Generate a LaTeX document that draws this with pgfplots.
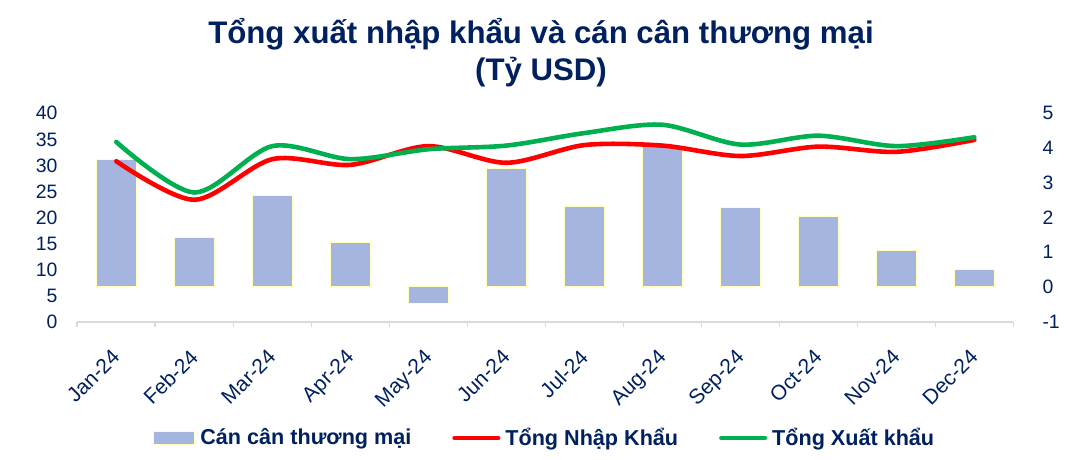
\documentclass[border=0pt]{standalone}
\usepackage{fontspec}
\setmainfont{Liberation Sans}
\usepackage{pgfplots}
\pgfplotsset{compat=1.18}
\definecolor{navy}{RGB}{0,32,96}
\definecolor{barblue}{RGB}{165,181,224}
\definecolor{baredge}{RGB}{255,255,190}
\definecolor{lred}{RGB}{255,0,0}
\definecolor{lgreen}{RGB}{0,176,80}
\begin{document}
\begin{tikzpicture}
\useasboundingbox (-38.65pt,-69.15pt) rectangle (501.85pt,160.85pt);
\begin{axis}[
  at={(0,0)}, anchor=south west,
  width=468pt, height=104.2pt, scale only axis,
  xmin=-0.5, xmax=11.5, ymin=-1, ymax=5,
  axis y line*=right, axis x line*=bottom,
  y axis line style={draw=none},
  x axis line style={draw=black!15, line width=0.8pt, -},
  ytick={-1,0,...,5},
  ytick style={draw=none},
  yticklabel style={font=\fontsize{9.7}{11}\selectfont, text=navy, xshift=6.8pt, anchor=west},
  xtick={0,...,11},
  xticklabels={Jan-24,Feb-24,Mar-24,Apr-24,May-24,Jun-24,Jul-24,Aug-24,Sep-24,Oct-24,Nov-24,Dec-24},
  xticklabel style={rotate=45, anchor=north east, font=\fontsize{10.5}{11}\selectfont, text=navy, xshift=-4.8pt, yshift=-0.8pt},
  major x tick style={draw=none},
  minor xtick={-0.5,0.5,...,11.5},
  minor x tick style={draw=black!15, line width=0.8pt},
  minor tick length=2.5pt,
  tick align=outside,
  /pgf/number format/assume math mode=true,
  clip=false,
]
\addplot[ybar, bar width=20pt, fill=barblue, draw=baredge, line width=0.5pt] coordinates {
  (0,3.68) (1,1.42) (2,2.62) (3,1.28) (4,-0.49) (5,3.40)
  (6,2.33) (7,4.04) (8,2.30) (9,2.02) (10,1.05) (11,0.50)};
\end{axis}
\begin{axis}[
  at={(0,0)}, anchor=south west,
  width=468pt, height=104.2pt, scale only axis,
  xmin=-0.5, xmax=11.5, ymin=0, ymax=40,
  axis y line*=left, axis x line=none,
  y axis line style={draw=none},
  ytick={0,5,...,40},
  ytick style={draw=none},
  yticklabel style={font=\fontsize{9.7}{11}\selectfont, text=navy, xshift=-6.45pt},
  /pgf/number format/assume math mode=true,
  clip=false,
  legend columns=3,
  legend style={at={(0.0801,-0.558)}, anchor=west, draw=none, fill=none,
    font=\bfseries\fontsize{10.8}{12}\selectfont, text=navy, inner sep=0pt,
    nodes={inner sep=0pt},
    /tikz/every odd column/.style={column sep=2.5pt},
    /tikz/every even column/.style={column sep=20.5pt}},
  legend cell align=left,
]
\addlegendimage{legend image code/.code={\draw[fill=barblue,draw=baredge,line width=0.5pt] (0pt,-3.15pt) rectangle (20.85pt,3.15pt);}}
\addlegendentry{Cán cân thương mại}
\addplot[lred, line width=2.3pt, smooth, line cap=round,
  legend image code/.code={\draw[lred,line width=2pt,line cap=round] (0pt,0pt) -- (22pt,0pt);}] coordinates {
  (0,30.8) (1,23.4) (2,31.2) (3,30.1) (4,33.7) (5,30.5)
  (6,33.9) (7,33.8) (8,31.8) (9,33.6) (10,32.6) (11,34.9)};
\addlegendentry{Tổng Nhập Khẩu}
\addplot[lgreen, line width=2.3pt, smooth, line cap=round,
  legend image code/.code={\draw[lgreen,line width=2pt,line cap=round] (0pt,0pt) -- (22pt,0pt);}] coordinates {
  (0,34.5) (1,24.8) (2,33.7) (3,31.2) (4,33.1) (5,33.8)
  (6,36.2) (7,37.8) (8,34.0) (9,35.7) (10,33.7) (11,35.4)};
\addlegendentry{Tổng Xuất khẩu}
\end{axis}
\node[anchor=base, font=\bfseries\fontsize{15.6}{18}\selectfont, text=navy] at (231.85pt,138.85pt) {Tổng xuất nhập khẩu và cán cân thương mại};
\node[anchor=base, font=\bfseries\fontsize{15.6}{18}\selectfont, text=navy] at (231.85pt,120.35pt) {(Tỷ USD)};
\end{tikzpicture}
\end{document}
